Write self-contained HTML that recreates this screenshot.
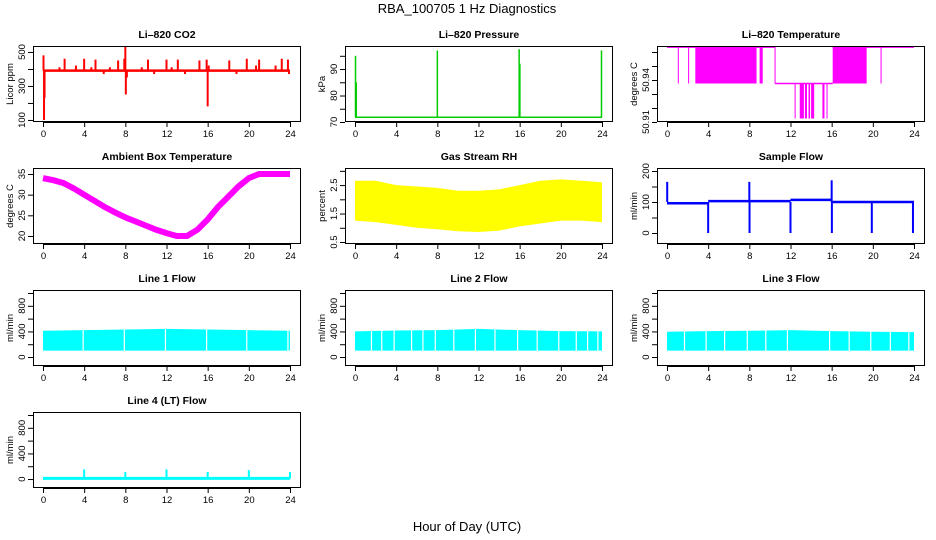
<!DOCTYPE html>
<html><head><meta charset="utf-8">
<style>
html,body{margin:0;padding:0;background:#fff;}
svg{display:block;font-family:"Liberation Sans",Arial,sans-serif;}
.t{font-size:10.5px;font-weight:bold;}
.tk{font-size:9.5px;}
</style></head>
<body>
<svg id="c" width="936" height="540" viewBox="0 0 936 540">
<text x="467" y="13" text-anchor="middle" font-size="13">RBA_100705  1 Hz Diagnostics</text>
<text x="467" y="531" text-anchor="middle" font-size="13">Hour of Day (UTC)</text>
</svg>
<script>
// ---- data ----
const xTicks=[0,4,8,12,16,20,24];
// CO2
const co2Base=390;
const co2SpikeHours=[0.05,0.1,0.15,1.6,2.1,3.2,4,4.7,5.1,5.9,6.5,7.3,7.9,8,8.05,8.15,9.6,10.2,10.8,12,12.5,13.1,13.8,15.2,15.9,16,16.1,18.1,18.8,19.8,20.7,21,22.6,23.2,23.8,23.9];
const co2SpikeVals=[480,100,230,410,460,420,460,410,455,370,410,450,460,530,250,350,410,455,370,455,410,455,370,450,455,180,420,450,370,460,420,455,420,460,455,370];
// Pressure
const presBase=71.8;
const presSpikeHours=[0.05,0.12,8.0,15.95,16.02,23.95];
const presSpikeVals=[95,85,97,97.5,92,97];
// Li-820 temperature
const tempLevelHours=[0,10.5,16.1,24];
const tempLevelVals=[50.9635,50.9375,50.9635];
const tempMidVal=50.9375, tempLowVal=50.9125;
const tempUpBlocksStart=[1.05,2.05,2.75,9.0,10.45,16.1,20.75];
const tempUpBlocksEnd=[1.15,2.15,8.7,9.3,10.55,19.4,20.85];
const tempLowBlocksStart=[12.4,12.9,13.4,13.75,14.0,15.1,15.5];
const tempLowBlocksEnd=[12.5,13.3,13.6,13.9,14.3,15.3,15.6];
// Ambient box temperature
const ambHours=[0,1,2,3,4,5,6,7,8,9,10,11,12,13,14,15,16,17,18,19,20,21,22,23,24];
const ambVals=[34,33.5,32.8,31.5,30,28.5,27,25.7,24.5,23.5,22.5,21.5,20.7,20,20,21.5,24,27,29.5,32,34,35,35,35,35];
// Gas stream RH envelope
const rhHours=[0,2,4,6,8,10,12,14,16,18,20,22,24];
const rhUpper=[2.65,2.65,2.5,2.45,2.4,2.3,2.3,2.35,2.5,2.65,2.7,2.65,2.6];
const rhLower=[1.25,1.2,1.1,1.0,0.95,0.88,0.85,0.9,1.05,1.15,1.25,1.25,1.2];
// Sample flow
const sfSegHours=[0,4,12,16,24];
const sfSegVals=[96,103,107,100];
const sfSpikeHours=[0.02,4,8,8.02,12,16,16.02,19.9,23.9];
const sfSpikeVals=[165,0,165,0,0,170,0,0,0];
// Line flows
const lfHours=[0,4,8,12,16,20,24];
const lf1Upper=[410,420,430,440,430,420,410];
const lf2Upper=[400,415,420,440,420,405,400];
const lf3Upper=[395,405,410,420,405,395,390];
const lfLower=[100,100,100,100,100,100,100];
const lf1Gaps=[3.9,7.9,11.9,15.9,19.8,23.8];
const lf2Gaps=[1.6,2.6,3.8,5.5,6.6,7.8,9.6,11.7,13.6,15.8,17.7,19.8,21.5,22.6,23.6];
const lf3Gaps=[1.7,3.8,5.6,7.8,9.6,11.7,15.8,17.7,19.8,21.7,23.5];
const lf4Base=10;
const lf4SpikeHours=[4,8,12,16,20,24];
const lf4SpikeVals=[150,110,150,110,140,110];

// ---- layout ----
const NS='http://www.w3.org/2000/svg';
const svg=document.getElementById('c');
function el(tag,attrs,parent){const e=document.createElementNS(NS,tag);for(const k in attrs)e.setAttribute(k,attrs[k]);(parent||svg).appendChild(e);return e;}
function panel(col,row,name,title,ylab,ymin,ymax,yt,ytl){
  const L=33+312*col,R=301+312*col,T=46+122*row,B=T+76;
  const g=el('g',{});
  
  
  const x=h=>43+312*col+h/24*247;
  const y=v=>B-(v-ymin)/(ymax-ymin)*(B-T);
  const clip=el('clipPath',{id:'cl'+name},g);
  el('rect',{x:L,y:T,width:R-L,height:B-T},clip);
  const plot=el('g',{'clip-path':'url(#cl'+name+')'},g);
  
  
  const tt=el('text',{x:(L+R)/2,y:T-8,'text-anchor':'middle',class:'t'},g);
  tt.textContent=title;
  
  
  const bx=el('rect',{x:L+.5,y:T+.5,width:R-L-1,height:B-T-1,fill:'none',stroke:'#000','stroke-width':1},g);
  
  
  const xa=el('g',{},g);
  
  
  el('line',{x1:x(0),x2:x(24),y1:B+.5,y2:B+.5,stroke:'#000'},xa);
  xTicks.forEach(h=>{el('line',{x1:x(h)+.5,x2:x(h)+.5,y1:B,y2:B+5,stroke:'#000'},xa);
    const t=el('text',{x:x(h)+.5,y:B+15,'text-anchor':'middle',class:'tk'},xa);t.textContent=h;});
  const ya=el('g',{},g);
  
  
  el('line',{x1:L+.5,x2:L+.5,y1:y(yt[0]),y2:y(yt[yt.length-1]),stroke:'#000'},ya);
  yt.forEach((v,i)=>{el('line',{x1:L-5,x2:L,y1:y(v)+.5,y2:y(v)+.5,stroke:'#000'},ya);
    if(ytl[i]!==''){const yy=y(v);const t=el('text',{x:L-8,y:yy,'text-anchor':'middle',class:'tk',transform:'rotate(-90 '+(L-8)+' '+yy+')'},ya);t.textContent=ytl[i];}});
  const yl=el('text',{x:L-20,y:(T+B)/2,'text-anchor':'middle',class:'tk',transform:'rotate(-90 '+(L-20)+' '+(T+B)/2+')'},g);
  yl.textContent=ylab;
  
  
  return {x,y,plot};
}
function vline(p,h,v1,v2,col,w){el('line',{x1:p.x(h),x2:p.x(h),y1:p.y(v1),y2:p.y(v2),stroke:col,'stroke-width':w||1.5},p.plot);}
function rect(p,h1,h2,v1,v2,col){el('rect',{x:p.x(h1),y:Math.min(p.y(v1),p.y(v2)),width:Math.max(1,p.x(h2)-p.x(h1)),height:Math.abs(p.y(v2)-p.y(v1)),fill:col},p.plot);}
function band(p,hs,lo,up,col){let d='M'+hs.map((h,i)=>p.x(h)+','+p.y(up[i])).join('L');
  for(let i=hs.length-1;i>=0;i--)d+='L'+p.x(hs[i])+','+p.y(lo[i]);el('path',{d:d+'Z',fill:col},p.plot);}

// CO2
let p=panel(0,0,'co2','Li\u2013820 CO2','Licor ppm',88,535,[100,200,300,400,500],['100','','300','','500']);
el('line',{x1:p.x(0),x2:p.x(24),y1:p.y(co2Base),y2:p.y(co2Base),stroke:'#ff0000','stroke-width':2.5},p.plot);
co2SpikeHours.forEach((h,i)=>vline(p,h,co2Base,co2SpikeVals[i],'#ff0000',2));
// Pressure
p=panel(1,0,'pressure','Li\u2013820 Pressure','kPa',70,98.7,[70,75,80,85,90,95],['70','','80','','90','']);
el('line',{x1:p.x(0),x2:p.x(24),y1:p.y(presBase),y2:p.y(presBase),stroke:'#00cc00','stroke-width':1.5},p.plot);
presSpikeHours.forEach((h,i)=>vline(p,h,presBase,presSpikeVals[i],'#00cc00',1.5));
// Li-820 temperature
p=panel(2,0,'li820-temp','Li\u2013820 Temperature','degrees C',50.91,50.9643,[50.91,50.92,50.93,50.94,50.95,50.96],['50.91','','','50.94','','']);
for(let i=0;i<tempLevelVals.length;i++)el('line',{x1:p.x(tempLevelHours[i]),x2:p.x(tempLevelHours[i+1]),y1:p.y(tempLevelVals[i]),y2:p.y(tempLevelVals[i]),stroke:'#ff00ff','stroke-width':1.5},p.plot);
tempUpBlocksStart.forEach((s,i)=>rect(p,s,tempUpBlocksEnd[i],tempMidVal,tempLevelVals[0],'#ff00ff'));
tempLowBlocksStart.forEach((s,i)=>rect(p,s,tempLowBlocksEnd[i],tempLowVal,tempMidVal,'#ff00ff'));
// Ambient
p=panel(0,1,'ambient-temp','Ambient Box Temperature','degrees C',18.06,36.45,[20,25,30,35],['20','25','30','35']);
el('path',{d:'M'+ambHours.map((h,i)=>p.x(h)+','+p.y(ambVals[i])).join('L'),fill:'none',stroke:'#ff00ff','stroke-width':6},p.plot);
// RH
p=panel(1,1,'gas-rh','Gas Stream RH','percent',0.43,3.1,[0.5,1,1.5,2,2.5,3],['0.5','','1.5','','2.5','']);
band(p,rhHours,rhLower,rhUpper,'#ffff00');
// Sample flow
p=panel(2,1,'sample-flow','Sample Flow','ml/min',-35.5,209.7,[0,50,100,150,200],['0','','100','','200']);
sfSegVals.forEach((v,i)=>el('line',{x1:p.x(sfSegHours[i]),x2:p.x(sfSegHours[i+1]),y1:p.y(v),y2:p.y(v),stroke:'#0000ff','stroke-width':2.5},p.plot));
sfSpikeHours.forEach((h,i)=>vline(p,h,100,sfSpikeVals[i],'#0000ff',2));
// Line flows
const lfTicks=[0,200,400,600,800,1000],lfLab=['0','','400','','800',''];
[[0,'line1-flow','Line 1 Flow',lf1Upper,lf1Gaps],[1,'line2-flow','Line 2 Flow',lf2Upper,lf2Gaps],[2,'line3-flow','Line 3 Flow',lf3Upper,lf3Gaps]].forEach(a=>{
  const q=panel(a[0],2,a[1],a[2],'ml/min',-140,1047,lfTicks,lfLab);
  band(q,lfHours,lfLower,a[3],'#00ffff');
  a[4].forEach(h=>vline(q,h,lfLower[0]-10,1000,'#ffffff',1.2));
});
p=panel(0,3,'line4-flow','Line 4 (LT) Flow','ml/min',-140,1047,lfTicks,lfLab);
el('line',{x1:p.x(0),x2:p.x(24),y1:p.y(lf4Base),y2:p.y(lf4Base),stroke:'#00ffff','stroke-width':3},p.plot);
lf4SpikeHours.forEach((h,i)=>vline(p,h,lf4Base,lf4SpikeVals[i],'#00ffff',2));
</script>
</body></html>
